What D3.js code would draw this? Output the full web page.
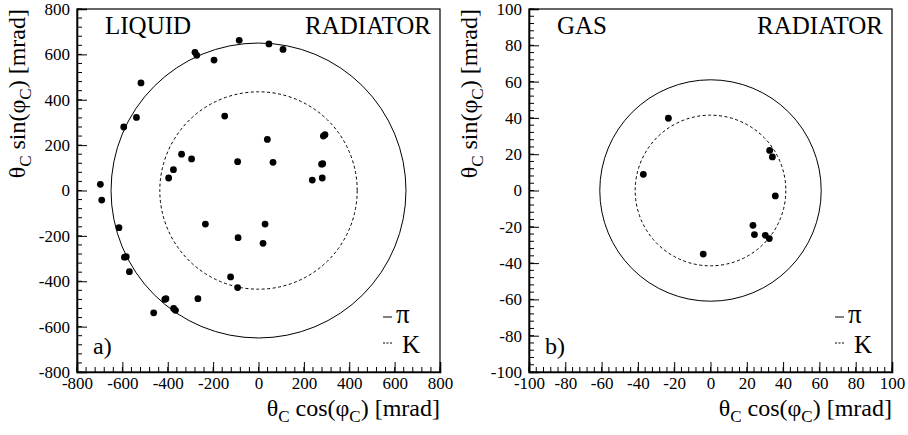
<!DOCTYPE html>
<html><head><meta charset="utf-8">
<script src="https://cdn.jsdelivr.net/npm/d3@7"></script>
<style>
html,body{margin:0;padding:0;background:#fff;}
svg{display:block;}
svg text{font-family:"Liberation Serif","Times New Roman",serif;fill:#000;}
</style></head>
<body>
<svg id="chart" width="908" height="435"></svg>
<script>
// ---------------- data ----------------
const liquidX = [-85,46,108,-280,-272,-196,-518,-538,-594,-149,39,293,286,-339,-295,-375,-396,-92,64,283,278,237,281,-697,-691,-615,-591,-583,-569,-234,29,-90,20,-123,-92,-413,-408,-267,-374,-366,-462];
const liquidY = [662,646,622,609,596,575,474,322,280,328,225,246,240,160,139,92,55,127,124,118,116,46,55,27,-42,-164,-294,-292,-358,-148,-148,-208,-233,-381,-428,-480,-477,-477,-520,-528,-539];
const gasX = [-23.2,-37,32.6,34.1,35.7,23.4,24.2,30.2,32.4,-4];
const gasY = [39.8,8.9,22.1,18.5,-3.0,-19.2,-24.3,-24.7,-26.5,-35];
const liquidRings = [650, 435];   // pi, K
const gasRings = [61, 41.5];      // pi, K
const ringNames = ["\u03c0", "K"];
const liquidTicks = [-800,-600,-400,-200,0,200,400,600,800];
const gasTicks = [-100,-80,-60,-40,-20,0,20,40,60,80,100];
const panelTitles = [["LIQUID","RADIATOR"],["GAS","RADIATOR"]];
const panelTags = ["a)","b)"];

const svg = d3.select("#chart");
const size = 363, topY = 9;

function panel(left, domain, ticks, minorStep, xs, ys, rings, titles, tag){
  const x = d3.scaleLinear().domain(domain).range([left, left+size]);
  const y = d3.scaleLinear().domain(domain).range([topY+size, topY]);
  const g = svg.append("g");
  g.append("rect").attr("x",left).attr("y",topY).attr("width",size).attr("height",size)
    .attr("fill","none").attr("stroke","#000").attr("stroke-width",1.2);
  const minor = d3.range(domain[0], domain[1]+minorStep/2, minorStep);
  const fmt = d=>d3.format("d")(d).replace("\u2212","-");
  const xAxis = d3.axisBottom(x).tickValues(ticks).tickSize(-10).tickPadding(14).tickFormat(fmt);
  const yAxis = d3.axisLeft(y).tickValues(ticks).tickSize(-10).tickPadding(17).tickFormat(fmt);
  const gx = g.append("g").attr("transform",`translate(0,${topY+size})`).call(xAxis);
  const gy = g.append("g").attr("transform",`translate(${left},0)`).call(yAxis);
  [gx,gy].forEach(a=>{
    a.attr("font-family",null).attr("font-size",17);
    a.select(".domain").attr("stroke","#000").attr("stroke-width",1.6);
    a.selectAll(".tick line").attr("stroke","#000").attr("stroke-width",1);
    a.selectAll("text").attr("fill","#000");
  });
  gy.selectAll(".tick text").attr("x",-7);
  gx.selectAll(".tick text").attr("y",5);
  g.append("g").selectAll("line").data(minor).join("line")
    .attr("x1",d=>x(d)).attr("x2",d=>x(d)).attr("y1",topY+size).attr("y2",topY+size-5)
    .attr("stroke","#000").attr("stroke-width",1);
  g.append("g").selectAll("line").data(minor).join("line")
    .attr("y1",d=>y(d)).attr("y2",d=>y(d)).attr("x1",left).attr("x2",left+5)
    .attr("stroke","#000").attr("stroke-width",1);
  g.selectAll("circle.ring").data(rings).join("circle").attr("class","ring")
    .attr("cx",x(0)).attr("cy",y(0)).attr("r",d=>x(d)-x(0))
    .attr("fill","none").attr("stroke","#000").attr("stroke-width",1)
    .attr("stroke-dasharray",(d,i)=>i===0?null:"3,2.5");
  g.selectAll("circle.pt").data(xs.map((v,i)=>[v,ys[i]])).join("circle").attr("class","pt")
    .attr("cx",d=>x(d[0])).attr("cy",d=>y(d[1])).attr("r",3.4).attr("fill","#000");
  g.append("text").attr("x",left+28).attr("y",34).attr("font-size",25).text(titles[0]);
  g.append("text").attr("x",left+size-9).attr("y",34).attr("text-anchor","end").attr("font-size",25).text(titles[1]);
  g.append("text").attr("x",left+16).attr("y",354).attr("font-size",24).text(tag);
  const lx = left+size-57;
  ringNames.forEach((nm,i)=>{
    const ly = 317 + i*26;
    g.append("line").attr("x1",lx).attr("x2",lx+9).attr("y1",ly).attr("y2",ly)
      .attr("stroke","#000").attr("stroke-width",1).attr("stroke-dasharray",i===0?null:"2,1.5");
    g.append("text").attr("x",lx+(i===0?13:19)).attr("y",ly+(i===0?6:10)).attr("font-size",i===0?27:25).text(nm);
  });
  const xt = g.append("text").attr("x",left+size).attr("y",416).attr("text-anchor","end").attr("font-size",24);
  xt.append("tspan").text("\u03b8");
  xt.append("tspan").attr("dy",6).attr("font-size",17).text("C");
  xt.append("tspan").attr("dy",-6).text(" cos(\u03c6");
  xt.append("tspan").attr("dy",6).attr("font-size",17).text("C");
  xt.append("tspan").attr("dy",-6).text(") [mrad]");
  const yt = g.append("text").attr("transform",`translate(${left-52},${topY}) rotate(-90)`).attr("text-anchor","end").attr("font-size",24);
  yt.append("tspan").text("\u03b8");
  yt.append("tspan").attr("dy",6).attr("font-size",17).text("C");
  yt.append("tspan").attr("dy",-6).text(" sin(\u03c6");
  yt.append("tspan").attr("dy",6).attr("font-size",17).text("C");
  yt.append("tspan").attr("dy",-6).text(") [mrad]");
}

panel(77, [-800,800], liquidTicks, 40, liquidX, liquidY, liquidRings, panelTitles[0], panelTags[0]);
panel(529, [-100,100], gasTicks, 4, gasX, gasY, gasRings, panelTitles[1], panelTags[1]);
</script>
</body></html>
